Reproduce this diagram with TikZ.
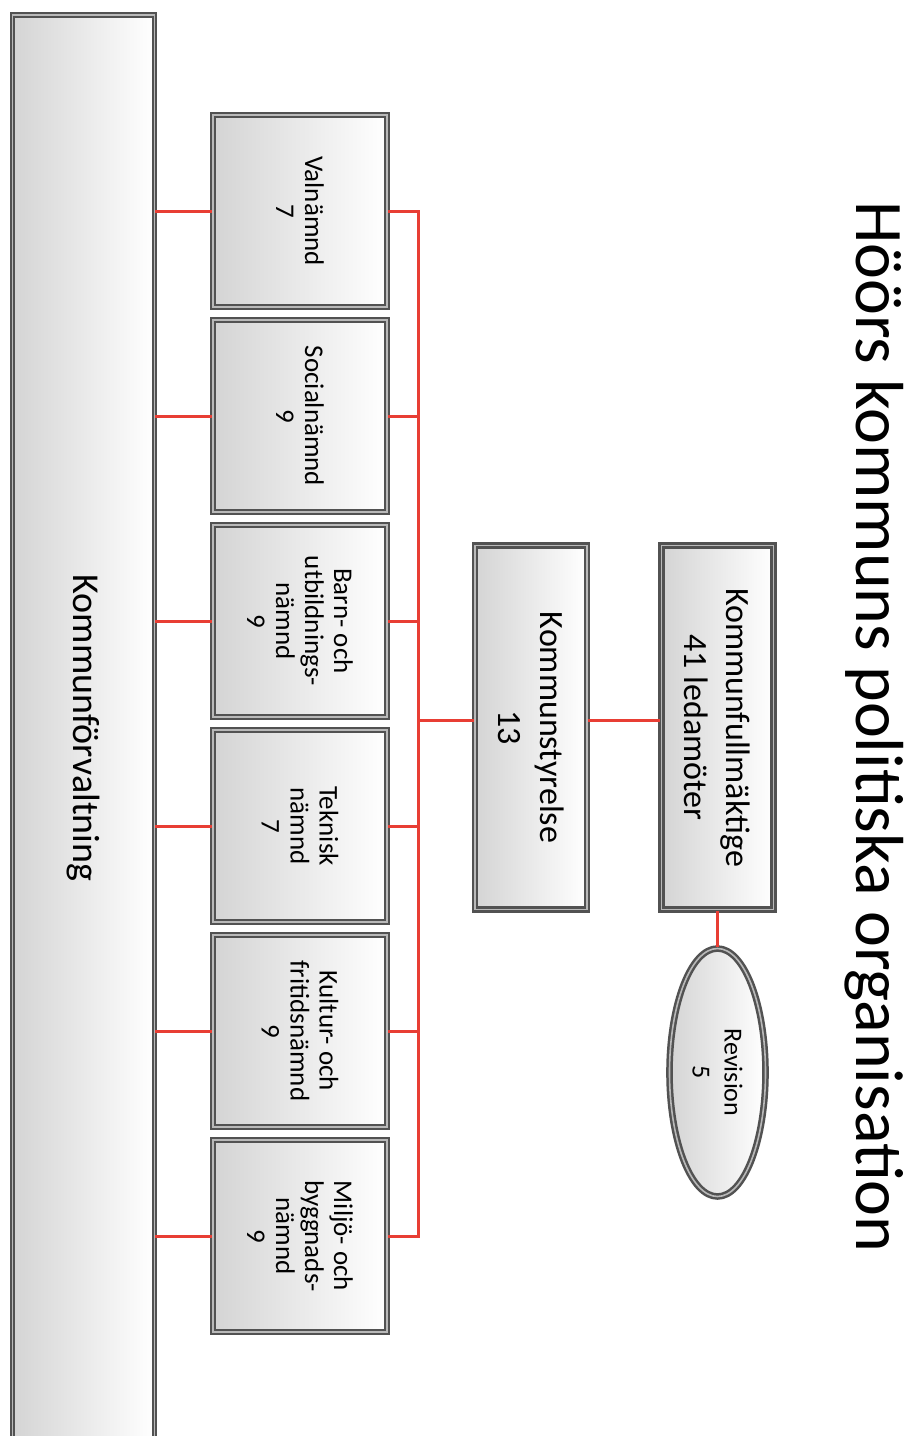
\documentclass[tikz,border=0pt]{standalone}
\usepackage{fontspec}
\setmainfont{Carlito}
\usepackage{tikz}
\usetikzlibrary{shapes.geometric}
\usepackage{xcolor}
\definecolor{linkred}{RGB}{232,62,52}
\definecolor{boxgray}{RGB}{212,212,212}

\tikzset{
    orgbox/.style={rectangle, rotate=-90, draw=black!68, line width=1.25pt, double=gray!55, double distance=0.8pt,
                   left color=boxgray, right color=white, align=center, inner sep=2pt},
    namnd/.style={orgbox, minimum width=96pt, minimum height=87pt, font=\fontsize{13.5}{14.5}\selectfont},
    styr/.style={orgbox, minimum width=182pt, minimum height=56pt, font=\fontsize{17}{21}\selectfont},
    link/.style={draw=linkred, line width=1.5pt}
}

\begin{document}
\begin{tikzpicture}[x=0.5pt, y=-0.5pt]
    \useasboundingbox (0, 0) rectangle (912, 1436);

    \node[rotate=-90, font=\fontsize{34}{40}\selectfont] (title) at (874, 727) {Höörs kommuns politiska organisation};

    \node[orgbox, line width=0.9pt, minimum width=713pt, minimum height=71pt, font=\fontsize{19}{23}\selectfont] (kfv) at (83.5, 728) {Kommunförvaltning};

    \node[namnd] (vn) at (300, 211) {Valnämnd\\7};
    \node[namnd] (sn) at (300, 416) {Socialnämnd\\9};
    \node[namnd] (bun) at (300, 621) {Barn- och\\utbildnings-\\nämnd\\9};
    \node[namnd] (tn) at (300, 826) {Teknisk\\nämnd\\7};
    \node[namnd] (kfn) at (300, 1031) {Kultur- och\\fritidsnämnd\\9};
    \node[namnd] (mbn) at (300, 1236) {Miljö- och\\byggnads-\\nämnd\\9};

    \node[styr] (ks) at (531, 727.5) {Kommunstyrelse\\13};
    \node[styr] (kf) at (717.5, 727.5) {Kommunfullmäktige\\41 ledamöter};

    \node[orgbox, ellipse, minimum width=124pt, minimum height=48pt, font=\fontsize{13}{16}\selectfont] (rev) at (717.5, 1072.5) {Revision\\5};

    \coordinate (bus) at (418, 720);

    % naemnder -- kommunfoervaltning
    \draw[link] (vn.south) -- (vn.south -| kfv.north)
                (sn.south) -- (sn.south -| kfv.north)
                (bun.south) -- (bun.south -| kfv.north)
                (tn.south) -- (tn.south -| kfv.north)
                (kfn.south) -- (kfn.south -| kfv.north)
                (mbn.south) -- (mbn.south -| kfv.north);

    % naemnder -- kommunstyrelse
    \draw[link] (vn.north) -| (bus)
                (sn.north) -| (bus)
                (bun.north) -| (bus)
                (tn.north) -| (bus)
                (kfn.north) -| (bus)
                (mbn.north) -| (bus);
    \draw[link] (bus) -- (bus -| ks.south);
    \draw[link] (ks.north |- bus) -- (kf.south |- bus);
    \draw[link] (kf.east) -- (rev.west);
\end{tikzpicture}
\end{document}
